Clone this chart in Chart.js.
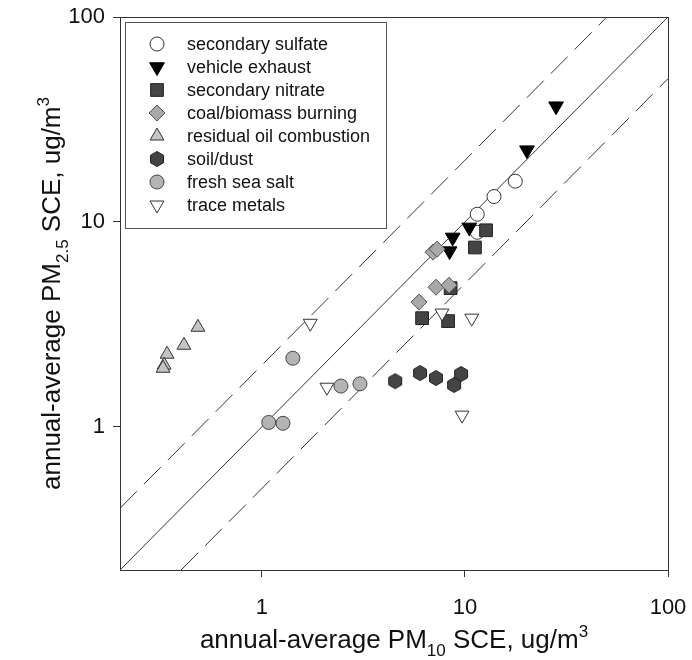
<!DOCTYPE html>
<html>
<head>
<meta charset="utf-8">
<script src="https://cdn.jsdelivr.net/npm/chart.js@4.4.0/dist/chart.umd.min.js"></script>
<style>
  html, body { margin: 0; padding: 0; background: #fff; }
  #wrap { width: 692px; height: 660px; }
</style>
</head>
<body>
<div id="wrap"><canvas id="pmChart" width="692" height="660"></canvas></div>
<script>
// values (ug/m3): x = PM10 SCE, y = PM2.5 SCE
const sulfateX  = [17.7, 13.9, 11.5, 11.5];
const sulfateY  = [15.8, 13.3, 10.9, 8.9];
const vehicleX  = [28.1, 20.2, 10.5, 8.7, 8.4];
const vehicleY  = [36.7, 22.4, 9.4, 8.4, 7.2];
const nitrateX  = [12.7, 11.2, 8.5, 6.15, 8.26];
const nitrateY  = [9.1, 7.5, 4.75, 3.39, 3.28];
const coalX     = [6.96, 7.29, 7.2, 8.35, 5.94];
const coalY     = [7.12, 7.36, 4.8, 4.91, 4.06];
const oilX      = [0.484, 0.413, 0.341, 0.330, 0.326];
const oilY      = [3.06, 2.50, 2.26, 2.0, 1.93];
const soilX     = [4.53, 6.01, 7.2, 9.57, 8.84];
const soilY     = [1.67, 1.83, 1.73, 1.81, 1.6];
const seaSaltX  = [1.42, 2.45, 3.04, 1.08, 1.27];
const seaSaltY  = [2.16, 1.58, 1.62, 1.05, 1.04];
const metalsX   = [1.73, 2.09, 7.71, 10.8, 9.68];
const metalsY   = [3.2, 1.56, 3.59, 3.39, 1.14];

// reference lines 1:1, 2:1, 1:2
const lineX     = [0.2, 100];
const upperX    = [0.2, 50];
const lowerX    = [0.4, 100];
const ratios    = [1, 2, 0.5];

const tickValues = [1, 10, 100];
const axisMin = 0.2, axisMax = 100;

const labels = ['secondary sulfate', 'vehicle exhaust', 'secondary nitrate', 'coal/biomass burning',
                'residual oil combustion', 'soil/dust', 'fresh sea salt', 'trace metals'];

function pairs(xs, ys) {
    return xs.map((x, i) => ({ x: x, y: ys[i] }));
}

// hexagon marker, no such pointStyle in Chart.js
function hexagon(r, fill, stroke) {
    const c = document.createElement('canvas');
    const s = Math.ceil(r * 2 + 3);
    c.width = s; c.height = s;
    const g = c.getContext('2d');
    g.beginPath();
    for (let i = 0; i < 6; i++) {
        const a = Math.PI / 3 * i - Math.PI / 2;
        g.lineTo(s / 2 + r * Math.cos(a), s / 2 + r * Math.sin(a));
    }
    g.closePath();
    g.fillStyle = fill; g.fill();
    g.strokeStyle = stroke; g.lineWidth = 1; g.stroke();
    return c;
}

const hexIcon = hexagon(7.5, '#444', '#222');

function scatterSet(label, xs, ys, style, extra) {
    return Object.assign({
        type: 'scatter',
        label: label,
        data: pairs(xs, ys),
        pointStyle: style,
        pointRadius: 7,
        pointHoverRadius: 7,
        borderWidth: 1,
        order: 0
    }, extra);
}

function refLine(xs, k, dash) {
    return {
        type: 'line',
        label: '',
        data: xs.map(x => ({ x: x, y: x * k })),
        borderColor: '#333',
        borderWidth: 1,
        borderDash: dash,
        pointRadius: 0,
        fill: false,
        order: 10
    };
}

const datasets = [
    refLine(lineX, ratios[0], []),
    refLine(upperX, ratios[1], [24, 10]),
    refLine(lowerX, ratios[2], [24, 10]),
    scatterSet(labels[7], metalsX, metalsY, 'triangle', { rotation: 180, pointRadius: 8, backgroundColor: '#fff', borderColor: '#333' }),
    scatterSet(labels[6], seaSaltX, seaSaltY, 'circle', { backgroundColor: '#b4b4b4', borderColor: '#444' }),
    scatterSet(labels[5], soilX, soilY, hexIcon, { backgroundColor: '#444', borderColor: '#222' }),
    scatterSet(labels[4], oilX, oilY, 'triangle', { pointRadius: 8, backgroundColor: '#c4c4c4', borderColor: '#333' }),
    scatterSet(labels[3], coalX, coalY, 'rectRot', { pointRadius: 8, backgroundColor: '#a8a8a8', borderColor: '#555' }),
    scatterSet(labels[2], nitrateX, nitrateY, 'rect', { pointRadius: 9, backgroundColor: '#444', borderColor: '#222' }),
    scatterSet(labels[1], vehicleX, vehicleY, 'triangle', { rotation: 180, pointRadius: 8.5, backgroundColor: '#000', borderColor: '#000' }),
    scatterSet(labels[0], sulfateX, sulfateY, 'circle', { backgroundColor: '#fff', borderColor: '#333' })
];

const fontFamily = '"Liberation Sans", Arial, sans-serif';

// titles with sub/superscripts, frame and inset legend
const decorPlugin = {
    id: 'decor',
    afterDraw(chart) {
        const ctx = chart.ctx;
        const a = chart.chartArea;
        ctx.save();
        ctx.strokeStyle = '#333';
        ctx.lineWidth = 1;
        ctx.strokeRect(a.left + 0.5, a.top + 0.5, a.right - a.left, a.bottom - a.top);

        // legend box
        const lx = 125, ly = 22, lw = 261, lh = 206;
        ctx.fillStyle = '#fff';
        ctx.fillRect(lx, ly, lw, lh);
        ctx.strokeStyle = '#555';
        ctx.strokeRect(lx + 0.5, ly + 0.5, lw, lh);
        ctx.font = '18px ' + fontFamily;
        ctx.textBaseline = 'middle';
        labels.forEach((txt, i) => {
            const ds = chart.data.datasets.find(d => d.label === txt);
            const y = 44 + i * 23;
            ctx.fillStyle = ds.backgroundColor;
            ctx.strokeStyle = ds.borderColor;
            ctx.lineWidth = 1;
            Chart.helpers.drawPoint(ctx, {
                pointStyle: ds.pointStyle,
                radius: ds.pointRadius,
                rotation: ds.rotation || 0,
                borderWidth: 1
            }, 157, y);
            ctx.fillStyle = '#111';
            ctx.fillText(txt, 187, y + 1);
        });

        const big = 26, small = 17;
        const xParts = [['annual-average PM', big, 0], ['10', small, 8], [' SCE, ug/m', big, 0], ['3', small, -11]];
        const yParts = [['annual-average PM', big, 0], ['2.5', small, 8], [' SCE, ug/m', big, 0], ['3', small, -11]];
        function drawParts(parts, cx, baseY) {
            ctx.textBaseline = 'alphabetic';
            ctx.textAlign = 'left';
            let w = 0;
            parts.forEach(p => { ctx.font = p[1] + 'px ' + fontFamily; w += ctx.measureText(p[0]).width; });
            let x = cx - w / 2;
            parts.forEach(p => {
                ctx.font = p[1] + 'px ' + fontFamily;
                ctx.fillStyle = '#111';
                ctx.fillText(p[0], x, baseY + p[2]);
                x += ctx.measureText(p[0]).width;
            });
        }
        drawParts(xParts, 394, 648);
        ctx.translate(60, (a.top + a.bottom) / 2);
        ctx.rotate(-Math.PI / 2);
        drawParts(yParts, 0, 0);
        ctx.restore();
    }
};

function fixedTicks(scale) {
    scale.ticks = tickValues.map(v => ({ value: v }));
}

const ctx = document.getElementById('pmChart').getContext('2d');
const pmChart = new Chart(ctx, {
    data: { datasets: datasets },
    options: {
        responsive: false,
        animation: false,
        events: [],
        layout: {
            padding: { left: 0, top: 17, right: 24, bottom: 0 }
        },
        plugins: {
            legend: { display: false },
            tooltip: { enabled: false }
        },
        scales: {
            x: {
                type: 'logarithmic',
                min: axisMin,
                max: axisMax,
                afterBuildTicks: fixedTicks,
                afterFit: s => { s.height = 90; s.paddingLeft = 0; s.paddingRight = 0; },
                grid: { drawOnChartArea: false, tickLength: 7, color: '#333' },
                border: { color: '#333' },
                ticks: {
                    color: '#111',
                    padding: 18,
                    maxRotation: 0,
                    autoSkip: false,
                    font: { size: 22, family: fontFamily },
                    callback: v => String(v)
                }
            },
            y: {
                type: 'logarithmic',
                min: axisMin,
                max: axisMax,
                afterBuildTicks: fixedTicks,
                afterFit: s => { s.width = 120; s.paddingTop = 0; s.paddingBottom = 0; },
                grid: { drawOnChartArea: false, tickLength: 7, color: '#333' },
                border: { color: '#333' },
                ticks: {
                    color: '#111',
                    padding: 8,
                    autoSkip: false,
                    font: { size: 22, family: fontFamily },
                    callback: v => String(v)
                }
            }
        }
    },
    plugins: [decorPlugin]
});
</script>
</body>
</html>
